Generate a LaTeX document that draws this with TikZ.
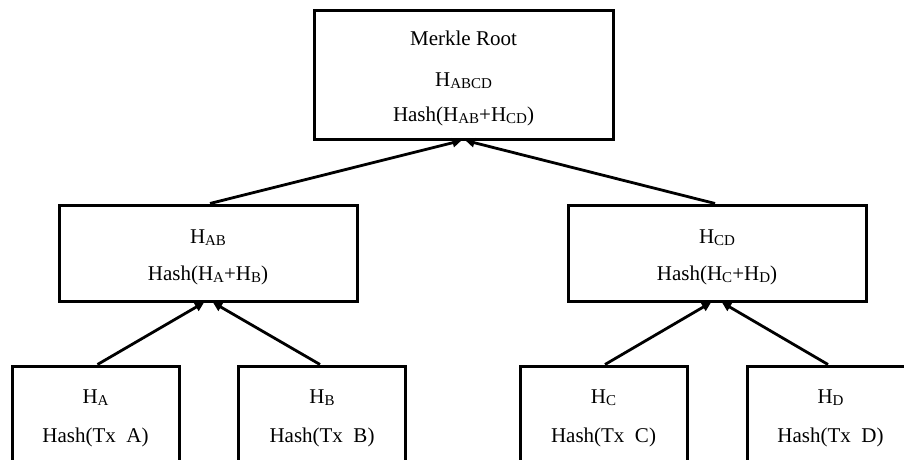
\documentclass[tikz,border=0pt]{standalone}
\usepackage{fontspec}
\setmainfont{Liberation Serif}
\usetikzlibrary{arrows.meta}
% lowered, smaller subscript letters
\newcommand\lowsub[1]{\raisebox{-2.5pt}{\fontsize{15}{15}\selectfont #1}}
\begin{document}
\begin{tikzpicture}[x=1pt,y=-1pt,
  hbox/.style={draw, line width=3pt, rectangle, inner sep=0pt, fill=white},
  lbl/.style={anchor=base, inner sep=0pt, font=\fontsize{21}{21}\selectfont},
  arr/.style={line width=2.8pt, -{Triangle[length=9pt,width=9pt]}}]
\clip (0,0) rectangle (904,460);
\fill[white] (0,0) rectangle (904,460);

% tree boxes
\node[hbox, minimum width=299pt, minimum height=128pt] (root) at (463.5,75) {};
\node[hbox, minimum width=298pt, minimum height=96pt] (ab) at (208,253) {};
\node[hbox, minimum width=298pt, minimum height=96pt] (cd) at (717,253) {};
\node[hbox, minimum width=167pt, minimum height=130pt] (a) at (95.5,431) {};
\node[hbox, minimum width=167pt, minimum height=130pt] (b) at (322,431) {};
\node[hbox, minimum width=167pt, minimum height=130pt] (c) at (603.5,431) {};
\node[hbox, minimum width=167pt, minimum height=130pt] (d) at (830.5,431) {};

% labels
\node[lbl] (rootT) at (463.5,46) {Merkle Root};
\node[lbl] (rootH) at (463.5,86) {H\lowsub{ABCD}};
\node[lbl] (rootF) at (463.5,121) {Hash(H\lowsub{AB}+H\lowsub{CD})};
\node[lbl] (abH) at (208,243) {H\lowsub{AB}};
\node[lbl] (abF) at (208,280) {Hash(H\lowsub{A}+H\lowsub{B})};
\node[lbl] (cdH) at (717,243) {H\lowsub{CD}};
\node[lbl] (cdF) at (717,280) {Hash(H\lowsub{C}+H\lowsub{D})};
\node[lbl] (aH) at (95.5,403) {H\lowsub{A}};
\node[lbl] (aF) at (95.5,442) {Hash(Tx\ \ A)};
\node[lbl] (bH) at (322,403) {H\lowsub{B}};
\node[lbl] (bF) at (322,442) {Hash(Tx\ \ B)};
\node[lbl] (cH) at (603.5,403) {H\lowsub{C}};
\node[lbl] (cF) at (603.5,442) {Hash(Tx\ \ C)};
\node[lbl] (dH) at (830.5,403) {H\lowsub{D}};
\node[lbl] (dF) at (830.5,442) {Hash(Tx\ \ D)};

% hash links pointing to the parent
\draw[arr] ([xshift=2pt]ab.north) -- ([xshift=-2pt]root.south);
\draw[arr] ([xshift=-2pt]cd.north) -- ([xshift=2pt]root.south);
\draw[arr] ([xshift=2pt]a.north) -- ([xshift=-4pt]ab.south);
\draw[arr] ([xshift=-2pt]b.north) -- ([xshift=5pt]ab.south);
\draw[arr] ([xshift=1.5pt]c.north) -- ([xshift=-6pt]cd.south);
\draw[arr] ([xshift=-2.5pt]d.north) -- ([xshift=5pt]cd.south);
\end{tikzpicture}
\end{document}
